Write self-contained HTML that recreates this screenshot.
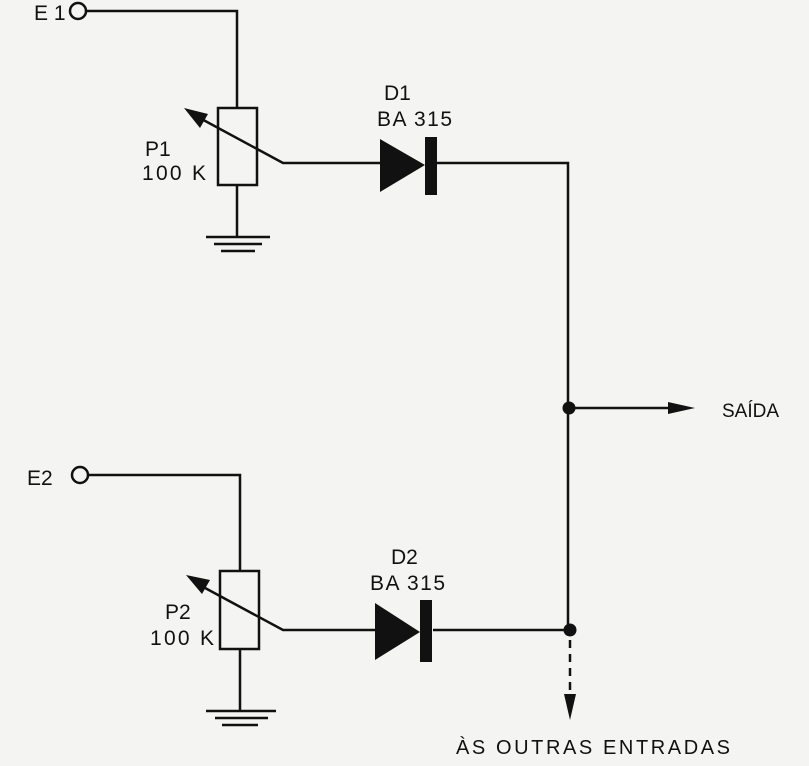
<!DOCTYPE html>
<html><head><meta charset="utf-8"><style>
html,body{margin:0;padding:0;background:#f4f4f2;}
svg{display:block}
text{font-family:"Liberation Sans",sans-serif;fill:#111;}
</style></head><body>
<svg width="809" height="766" viewBox="0 0 809 766" xmlns="http://www.w3.org/2000/svg">
<rect width="809" height="766" fill="#f4f4f2"/>
<g stroke="#111" stroke-width="2.5" fill="none">
<circle cx="78" cy="11" r="8"/>
<polyline points="86,11 237,11 237,108"/>
<rect x="218" y="108" width="39" height="77"/>
<line x1="237" y1="185" x2="237" y2="237"/>
<line x1="206" y1="237" x2="270" y2="237"/>
<line x1="214" y1="244" x2="262" y2="244"/>
<line x1="221" y1="251" x2="255" y2="251"/>
<polyline points="196,116 283,163 380,163"/>
<polyline points="437,163 568,163 568,632"/>
<circle cx="80" cy="475" r="8"/>
<polyline points="88,475 240,475 240,571"/>
<rect x="220" y="571" width="39" height="78"/>
<line x1="240" y1="649" x2="240" y2="711"/>
<line x1="206" y1="711" x2="276" y2="711"/>
<line x1="215" y1="718" x2="268" y2="718"/>
<line x1="222" y1="725" x2="258" y2="725"/>
<polyline points="194,582 283,630 375,630"/>
<line x1="433" y1="630" x2="570" y2="630"/>
<line x1="570" y1="408" x2="675" y2="408"/>
<line x1="570" y1="640" x2="570" y2="700" stroke-dasharray="8,6"/>
</g>
<g fill="#111">
<polygon points="184,108 208,114 200,128"/>
<polygon points="186,575 210,580 202,594"/>
<polygon points="380,139 380,192 425,165"/>
<rect x="425" y="137" width="12" height="58"/>
<polygon points="375,603 375,660 420,632"/>
<rect x="420" y="600" width="12" height="62"/>
<circle cx="569" cy="408" r="6.5"/>
<circle cx="570" cy="630" r="6.5"/>
<polygon points="668,402 668,414 695,408"/>
<polygon points="564,694 576,694 570,720"/>
</g>
<g font-size="21">
<text x="34" y="20">E 1</text>
<text x="27" y="485">E2</text>
<text x="384" y="100">D1</text>
<text x="377" y="126" textLength="75">BA 315</text>
<text x="391" y="564">D2</text>
<text x="370" y="590" textLength="75">BA 315</text>
<text x="145" y="156">P1</text>
<text x="142" y="180" textLength="64">100 K</text>
<text x="165" y="619">P2</text>
<text x="150" y="645" textLength="64">100 K</text>
<text x="722" y="417" font-size="19">SAÍDA</text>
<text x="456" y="754" font-size="20" textLength="274">ÀS OUTRAS ENTRADAS</text>
</g>
</svg>
</body></html>
